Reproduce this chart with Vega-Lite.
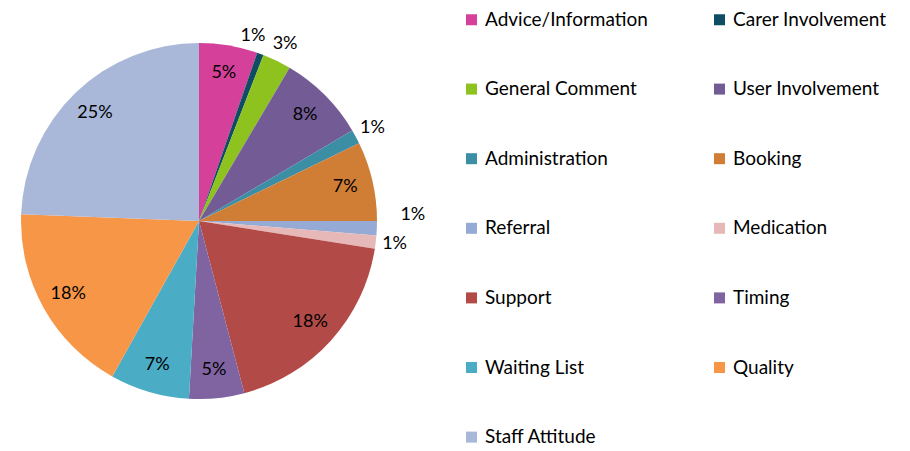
{
  "$schema": "https://vega.github.io/schema/vega-lite/v6.json",
  "width": 398,
  "height": 442,
  "autosize": {"type": "none"},
  "padding": {"left": 0, "top": 0, "right": 512, "bottom": 9},
  "background": "white",
  "data": {
    "values": [
      {"i": 1, "category": "Advice/Information", "share": 5.3, "label": "5%"},
      {"i": 2, "category": "Carer Involvement", "share": 0.6, "label": "1%"},
      {"i": 3, "category": "General Comment", "share": 2.6, "label": "3%"},
      {"i": 4, "category": "User Involvement", "share": 8.0, "label": "8%"},
      {"i": 5, "category": "Administration", "share": 1.3, "label": "1%"},
      {"i": 6, "category": "Booking", "share": 7.2, "label": "7%"},
      {"i": 7, "category": "Referral", "share": 1.3, "label": "1%"},
      {"i": 8, "category": "Medication", "share": 1.2, "label": "1%"},
      {"i": 9, "category": "Support", "share": 18.4, "label": "18%"},
      {"i": 10, "category": "Timing", "share": 5.0, "label": "5%"},
      {"i": 11, "category": "Waiting List", "share": 7.2, "label": "7%"},
      {"i": 12, "category": "Quality", "share": 17.5, "label": "18%"},
      {"i": 13, "category": "Staff Attitude", "share": 24.4, "label": "25%"}
    ]
  },
  "encoding": {
    "theta": {"field": "share", "type": "quantitative", "stack": true},
    "order": {"field": "i", "type": "quantitative"}
  },
  "layer": [
    {
      "mark": {"type": "arc", "outerRadius": 178},
      "encoding": {
        "color": {
          "field": "category",
          "type": "nominal",
          "scale": {
            "domain": ["Advice/Information", "Carer Involvement", "General Comment", "User Involvement", "Administration", "Booking", "Referral", "Medication", "Support", "Timing", "Waiting List", "Quality", "Staff Attitude"],
            "range": ["#D5409A", "#0E4D64", "#8DC21F", "#735B95", "#3C8EA5", "#D07E36", "#95ABD6", "#E6B9B8", "#B24A47", "#8064A2", "#4BACC6", "#F79646", "#A9B8D8"]
          },
          "legend": {
            "title": null,
            "orient": "none",
            "legendX": 462,
            "legendY": 10,
            "direction": "horizontal",
            "columns": 2,
            "symbolType": "square",
            "symbolSize": 121,
            "symbolStrokeWidth": 0,
            "labelFont": "Lato",
            "labelFontSize": 19,
            "labelColor": "#000000",
            "labelOffset": 4,
            "rowPadding": 49.6,
            "columnPadding": 62,
            "labelLimit": 300
          }
        }
      }
    },
    {
      "mark": {"type": "text", "radius": 150, "font": "Lato", "fontSize": 18, "color": "#000000"},
      "encoding": {"text": {"condition": {"test": "datum.share >= 4", "field": "label"}, "value": ""}}
    },
    {
      "mark": {"type": "text", "radius": 197, "font": "Lato", "fontSize": 18, "color": "#000000"},
      "encoding": {"text": {"condition": {"test": "datum.share < 4 && datum.category != 'Carer Involvement' && datum.category != 'Referral'", "field": "label"}, "value": ""}}
    },
    {
      "mark": {"type": "text", "radius": 197, "dx": -14, "font": "Lato", "fontSize": 18, "color": "#000000"},
      "encoding": {"text": {"condition": {"test": "datum.category == 'Carer Involvement'", "field": "label"}, "value": ""}}
    },
    {
      "mark": {"type": "text", "radius": 214, "dy": -15, "font": "Lato", "fontSize": 18, "color": "#000000"},
      "encoding": {"text": {"condition": {"test": "datum.category == 'Referral'", "field": "label"}, "value": ""}}
    }
  ],
  "config": {"view": {"stroke": null}}
}
